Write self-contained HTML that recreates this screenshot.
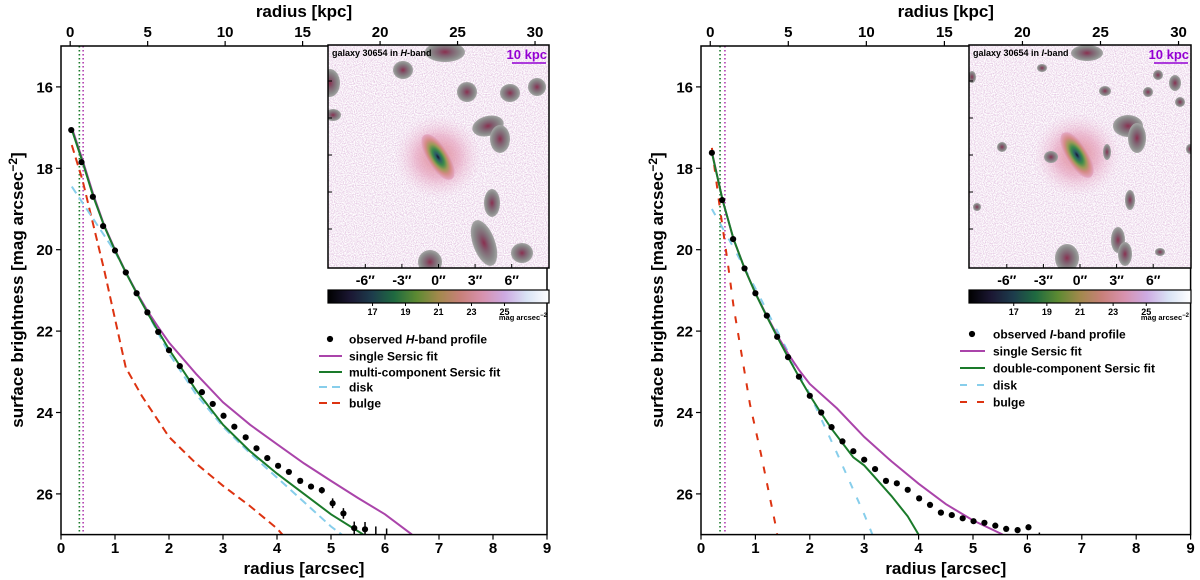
<!DOCTYPE html>
<html><head><meta charset="utf-8"><style>
html,body{margin:0;padding:0;background:#fff;}
svg{display:block;font-family:"Liberation Sans","DejaVu Sans",sans-serif;}
.tk{font-weight:bold;font-size:15px;}
.lab{font-weight:bold;font-size:17px;}
.lg{font-weight:bold;font-size:12px;}
</style></head><body>
<svg id="fig" width="1200" height="580" viewBox="0 0 1200 580" xmlns="http://www.w3.org/2000/svg">
<defs>
<linearGradient id="cmap" x1="0" x2="1" y1="0" y2="0">
<stop offset="0" stop-color="#000"/><stop offset="0.1" stop-color="#1b1733"/><stop offset="0.2" stop-color="#1d3c4c"/>
<stop offset="0.3" stop-color="#1f6a40"/><stop offset="0.4" stop-color="#5c8a32"/><stop offset="0.5" stop-color="#a2894c"/>
<stop offset="0.6" stop-color="#c8807a"/><stop offset="0.7" stop-color="#d792ae"/><stop offset="0.8" stop-color="#cdaae2"/>
<stop offset="0.9" stop-color="#d9e3f5"/><stop offset="1" stop-color="#fff"/>
</linearGradient>
<radialGradient id="gal"><stop offset="0" stop-color="#151630"/><stop offset="0.15" stop-color="#2a5a66"/><stop offset="0.35" stop-color="#3b8a4a"/><stop offset="0.55" stop-color="#9a9a55"/><stop offset="0.75" stop-color="#d58a86"/><stop offset="1" stop-color="#e5a9c6"/></radialGradient>
<radialGradient id="halo"><stop offset="0" stop-color="#e08a90"/><stop offset="0.5" stop-color="#e7a5c0" stop-opacity="0.7"/><stop offset="1" stop-color="#f0d0e6" stop-opacity="0"/></radialGradient>
<radialGradient id="blob"><stop offset="0" stop-color="#8a3050"/><stop offset="0.35" stop-color="#806070"/><stop offset="0.75" stop-color="#8a8a8a"/><stop offset="1" stop-color="#a5a5a5"/></radialGradient>
<filter id="noise" x="0" y="0" width="100%" height="100%"><feTurbulence type="fractalNoise" baseFrequency="0.9" numOctaves="1" seed="3"/><feColorMatrix type="matrix" values="0 0 0 0 1  0 0 0 0 1  0 0 0 0 1  0 0 0 -2.2 1.75"/></filter>
<clipPath id="clipL"><rect x="61" y="46" width="486" height="489"/></clipPath>
<clipPath id="clipR"><rect x="701" y="46" width="490" height="489"/></clipPath>
<clipPath id="clipIL"><rect x="328" y="45" width="221" height="223"/></clipPath>
<clipPath id="clipIR"><rect x="969" y="45" width="222" height="223"/></clipPath>
</defs>
<g id="root"></g>
</svg>
<script>
// ---------- data: left panel (H-band) ----------
const hObsR   = [0.19,0.38,0.59,0.78,1.0,1.2,1.4,1.6,1.8,2.0,2.2,2.41,2.61,2.81,3.01,3.21,3.42,3.62,3.82,4.02,4.22,4.43,4.63,4.83,5.03,5.23,5.43,5.63,5.83,6.03];
const hObsMag = [17.06,17.85,18.70,19.42,20.02,20.56,21.07,21.54,22.02,22.47,22.86,23.22,23.50,23.79,24.08,24.35,24.61,24.88,25.12,25.31,25.46,25.68,25.82,25.91,26.23,26.48,26.84,26.87,27.15,27.2];
const hObsErr = [0,0,0,0,0,0,0,0,0,0,0,0,0,0,0,0,0,0,0,0,0.03,0.04,0.06,0.08,0.12,0.13,0.16,0.18,0.35,0.35];
const hSingleR   = [0.2,0.4,0.6,0.8,1.0,1.2,1.4,1.6,1.8,2.0,2.5,3.0,3.5,4.0,4.5,5.0,5.5,6.0,6.5];
const hSingleMag = [17.0,17.8,18.65,19.4,20.0,20.55,21.05,21.5,21.9,22.28,23.05,23.75,24.3,24.78,25.25,25.68,26.1,26.5,27.0];
const hMultiR   = [0.2,0.4,0.6,0.8,1.0,1.2,1.4,1.6,1.8,2.0,2.5,3.0,3.5,4.0,4.5,5.0,5.6];
const hMultiMag = [17.05,17.85,18.7,19.42,20.02,20.56,21.07,21.55,22.0,22.45,23.45,24.3,24.95,25.5,26.0,26.5,27.0];
const hDiskR   = [0.2,0.5,1.0,1.5,2.0,2.5,3.0,3.5,4.0,4.5,5.0,5.2];
const hDiskMag = [18.45,19.05,20.05,21.3,22.55,23.55,24.35,25.0,25.6,26.2,26.8,27.0];
const hBulgeR   = [0.2,0.4,0.6,0.8,1.0,1.2,1.5,2.0,2.5,3.0,3.5,4.0,4.1];
const hBulgeMag = [17.43,18.3,19.4,20.5,21.7,22.9,23.6,24.6,25.25,25.8,26.3,26.85,27.0];
// ---------- data: right panel (I-band) ----------
const iObsR   = [0.20,0.39,0.59,0.80,1.0,1.21,1.40,1.60,1.80,2.0,2.21,2.40,2.60,2.80,3.0,3.20,3.40,3.60,3.80,4.01,4.21,4.41,4.61,4.81,5.01,5.21,5.41,5.61,5.82,6.02,6.22];
const iObsMag = [17.62,18.78,19.74,20.46,21.07,21.62,22.14,22.64,23.12,23.59,24.0,24.36,24.71,24.95,25.16,25.39,25.68,25.74,25.90,26.11,26.27,26.46,26.52,26.60,26.67,26.71,26.78,26.86,26.89,26.82,27.1];
const iObsErr = [0,0,0,0,0,0,0,0,0,0,0,0,0,0,0,0,0,0,0,0,0,0,0,0,0,0,0,0,0,0.02,0.15];
const iSingleR   = [0.2,0.4,0.6,0.8,1.0,1.2,1.4,1.6,1.8,2.0,2.5,3.0,3.5,4.0,4.5,5.0,5.55];
const iSingleMag = [17.6,18.8,19.75,20.45,21.07,21.6,22.1,22.55,22.95,23.3,23.9,24.6,25.2,25.75,26.25,26.65,27.0];
const iDoubleR   = [0.2,0.4,0.6,0.8,1.0,1.2,1.4,1.6,1.8,2.0,2.2,2.4,2.6,2.8,3.0,3.2,3.5,3.8,4.0];
const iDoubleMag = [17.62,18.8,19.74,20.46,21.07,21.62,22.14,22.64,23.12,23.58,24.0,24.4,24.75,25.1,25.3,25.6,26.05,26.55,27.0];
const iDiskR   = [0.2,0.6,1.0,1.5,2.0,2.5,3.0,3.15];
const iDiskMag = [19.0,19.95,20.95,22.25,23.55,25.0,26.5,27.0];
const iBulgeR   = [0.2,0.35,0.5,0.6,0.75,0.9,1.1,1.36,1.4];
const iBulgeMag = [17.5,19.0,20.4,21.4,22.6,23.8,25.0,26.7,27.0];
// ---------- ticks ----------
const xTicks = [0,1,2,3,4,5,6,7,8,9];
const yTicks = [16,18,20,22,24,26];
const kpcTicks = [0,5,10,15,20,25,30];
const cbarTicks = [17,19,21,23,25];
const insetTicks = ["-6″","-3″","0″","3″","6″"];
const insetTickVals = [-6,-3,0,3,6];

const NS='http://www.w3.org/2000/svg';
const root=document.getElementById('root');
function mk(tag,attrs,parent){const e=document.createElementNS(NS,tag);for(const k in attrs)e.setAttribute(k,attrs[k]);(parent||root).appendChild(e);return e;}

function panel(p){
  const X=r=>p.x0+r*p.sx, Y=m=>46.2+(m-15)*40.7;
  const g=mk('g',{});
  
  
  const plot=mk('g',{'clip-path':'url(#'+p.clip+')'},g);
  const v1=mk('line',{x1:X(p.vg),x2:X(p.vg),y1:46,y2:535,stroke:'#1a7a2a','stroke-width':1.6,'stroke-dasharray':'1.5,2.5'},plot);
  
  
  const v2=mk('line',{x1:X(p.vp),x2:X(p.vp),y1:46,y2:535,stroke:'#b03cb0','stroke-width':1.6,'stroke-dasharray':'1.5,2.5'},plot);
  
  
  function curve(rs,ms,col,dash,nm){
    const d=rs.map((r,i)=>(i?'L':'M')+X(r).toFixed(1)+','+Y(ms[i]).toFixed(1)).join('');
    const e=mk('path',{d:d,fill:'none',stroke:col,'stroke-width':2,'stroke-dasharray':dash||'none'},plot);
    
    
  }
  curve(p.bR,p.bM,'#dd3311',p.dash,'bulge-curve');
  curve(p.dR,p.dM,'#87ceeb',p.dash,'disk-curve');
  curve(p.sR,p.sM,'#aa44aa',null,'single-sersic-curve');
  curve(p.mR,p.mM,'#1a7a2a',null,'multi-sersic-curve');
  p.oR.forEach((r,i)=>{
    if(p.oE[i]>0){const eb=mk('line',{x1:X(r),x2:X(r),y1:Y(p.oM[i]-p.oE[i]),y2:Y(p.oM[i]+p.oE[i]),stroke:'#000','stroke-width':1.5},plot);
      
      }
    const c=mk('circle',{cx:X(r),cy:Y(p.oM[i]),r:3.1,fill:'#000'},plot);
    
    
  });
  const fr=mk('rect',{x:p.x0,y:46,width:X(9)-p.x0,height:Y(27)-46,fill:'none',stroke:'#000','stroke-width':1.5},g);
  
  
  xTicks.forEach(t=>{mk('line',{x1:X(t),x2:X(t),y1:Y(27),y2:Y(27)+5,stroke:'#000','stroke-width':1.2},g);
    const tx=mk('text',{x:X(t),y:553,'text-anchor':'middle',class:'tk'},g);tx.textContent=t;
    
    });
  yTicks.forEach(t=>{mk('line',{x1:p.x0-5,x2:p.x0,y1:Y(t),y2:Y(t),stroke:'#000','stroke-width':1.2},g);
    const tx=mk('text',{x:p.x0-8,y:Y(t)+5.5,'text-anchor':'end',class:'tk'},g);tx.textContent=t;
    
    });
  kpcTicks.forEach(k=>{const xx=X(0.17+k/3.485);mk('line',{x1:xx,x2:xx,y1:41,y2:46,stroke:'#000','stroke-width':1.2},g);
    const tx=mk('text',{x:xx,y:37,'text-anchor':'middle',class:'tk'},g);tx.textContent=k;
    
    });
  const xl=mk('text',{x:(p.x0+X(9))/2,y:574,'text-anchor':'middle',class:'lab'},g);xl.textContent='radius [arcsec]';
  
  
  const tl=mk('text',{x:(p.x0+X(9))/2,y:17,'text-anchor':'middle',class:'lab'},g);tl.textContent='radius [kpc]';
  
  
  const yl=mk('text',{x:0,y:0,'text-anchor':'middle',class:'lab',transform:'translate('+(p.x0-38)+',290) rotate(-90)'},g);
  yl.innerHTML='surface brightness [mag arcsec<tspan dy="-6" font-size="12">−2</tspan><tspan dy="6">]</tspan>';
  
  
  const lg=mk('g',{},g);
  
  
  const L=p.leg;
  mk('circle',{cx:L.dot,cy:L.rows[0],r:3.1,fill:'#000'},lg);
  const items=[['#aa44aa',null],['#1a7a2a',null],['#87ceeb',p.dash],['#dd3311',p.dash]];
  items.forEach((it,i)=>mk('line',{x1:L.l1,x2:L.l2,y1:L.rows[i+1],y2:L.rows[i+1],stroke:it[0],'stroke-width':2,'stroke-dasharray':it[1]||'none'},lg));
  p.labels.forEach((t,i)=>{const tx=mk('text',{x:L.tx,y:L.rows[i]+4.5,class:'lg'},lg);tx.innerHTML=t;
    
    });
  const I=p.inset, ig=mk('g',{},g);
  
  
  const ic=mk('g',{'clip-path':'url(#'+I.clip+')'},ig);
  mk('rect',{x:I.x,y:45,width:I.w,height:223,fill:'#e2c2e0'},ic);
  mk('rect',{x:I.x,y:45,width:I.w,height:223,fill:'#fff',filter:'url(#noise)'},ic);
  mk('ellipse',{cx:I.gx,cy:I.gy,rx:44,ry:42,fill:'url(#halo)'},ic);
  mk('ellipse',{cx:I.gx,cy:I.gy,rx:26,ry:11,fill:'url(#gal)',transform:'rotate(58 '+I.gx+' '+I.gy+')'},ic);
  I.blobs.forEach(b=>{const e=mk('ellipse',{cx:b[0],cy:b[1],rx:b[2],ry:b[3],fill:'url(#blob)',transform:'rotate('+(b[4]||0)+' '+b[0]+' '+b[1]+')'},ic);
    
    });
  mk('rect',{x:I.x,y:45,width:I.w,height:223,fill:'none',stroke:'#000','stroke-width':1.5},ig);
  const ttl=mk('text',{x:I.x+4,y:56,'font-size':9,'font-weight':'bold'},ig);ttl.innerHTML=I.title;
  
  
  const sb=mk('text',{x:I.x+I.w-2,y:59,'font-size':13,'font-weight':'bold','text-anchor':'end',fill:'#9400d3'},ig);sb.textContent='10 kpc';
  
  
  mk('line',{x1:I.x+I.w-37,x2:I.x+I.w-3,y1:63,y2:63,stroke:'#9400d3','stroke-width':1.5},ig);
  const cx0=I.x+I.w/2, ps=12.2;
  insetTickVals.forEach((v,i)=>{const xx=cx0+v*ps;mk('line',{x1:xx,x2:xx,y1:268,y2:264,stroke:'#000'},ig);
    const tx=mk('text',{x:xx,y:285,'text-anchor':'middle','font-size':14,'font-weight':'bold'},ig);tx.textContent=insetTicks[i];
    
    });
  [81,118,155,192,229].forEach(yy=>mk('line',{x1:I.x,x2:I.x+4,y1:yy,y2:yy,stroke:'#000'},ig));
  const cb=mk('g',{},g);
  
  
  mk('rect',{x:I.x,y:290,width:I.w,height:13,fill:'url(#cmap)',stroke:'#000','stroke-width':1.2},cb);
  const CX=m=>I.x+(m-14.3)/(27.7-14.3)*I.w;
  cbarTicks.forEach(t=>{mk('line',{x1:CX(t),x2:CX(t),y1:303,y2:306,stroke:'#000'},cb);
    const tx=mk('text',{x:CX(t),y:315,'text-anchor':'middle','font-size':9,'font-weight':'bold'},cb);tx.textContent=t;
    
    });
  const cu=mk('text',{x:I.x+I.w-2,y:320,'text-anchor':'end','font-size':7.5,'font-weight':'bold'},cb);cu.innerHTML='mag arcsec<tspan dy="-3" font-size="6">−2</tspan>';
  
  
}

panel({name:'h-band',x0:61,sx:54,clip:'clipL',vg:0.34,vp:0.41,dash:'8,5',
  oR:hObsR,oM:hObsMag,oE:hObsErr,sR:hSingleR,sM:hSingleMag,mR:hMultiR,mM:hMultiMag,dR:hDiskR,dM:hDiskMag,bR:hBulgeR,bM:hBulgeMag,
  leg:{dot:330,l1:319,l2:342,tx:349,rows:[339,356,372,387,403]},
  labels:['observed <tspan font-style="italic">H</tspan>-band profile','single Sersic fit','multi-component Sersic fit','disk','bulge'],
  inset:{x:328,w:221,clip:'clipIL',gx:438,gy:157,title:'galaxy 30654 in <tspan font-style="italic">H</tspan>-band',
    blobs:[[403,70,10,9],[467,92,10,10],[510,93,10,9],[537,87,9,9],[488,126,16,10,-15],[500,139,10,14],[492,203,8,14],[484,243,11,24,-20],[522,253,11,10],[430,262,12,12],[330,83,10,14],[333,115,8,6],[445,52,20,10]]}
});
panel({name:'i-band',x0:701,sx:54.4,clip:'clipR',vg:0.35,vp:0.44,dash:'7,10',
  oR:iObsR,oM:iObsMag,oE:iObsErr,sR:iSingleR,sM:iSingleMag,mR:iDoubleR,mM:iDoubleMag,dR:iDiskR,dM:iDiskMag,bR:iBulgeR,bM:iBulgeMag,
  leg:{dot:972,l1:960,l2:985,tx:993,rows:[334,351,368,385,402]},
  labels:['observed <tspan font-style="italic">I</tspan>-band profile','single Sersic fit','double-component Sersic fit','disk','bulge'],
  inset:{x:969,w:222,clip:'clipIR',gx:1077,gy:155,title:'galaxy 30654 in <tspan font-style="italic">I</tspan>-band',
    blobs:[[1087,53,16,8],[1042,68,5,4],[1105,91,6,5],[1158,75,5,5],[1175,83,6,8],[1148,92,5,5],[1180,102,5,5],[1128,126,15,11],[1137,138,9,15],[1002,147,5,5],[1051,157,7,6],[1107,152,4,8],[1190,149,4,5],[1130,200,5,10],[977,207,4,4],[1118,240,7,13],[1125,254,7,12],[1160,252,5,4],[1067,258,12,14],[972,77,4,6]]}
});
</script>
</body></html>
